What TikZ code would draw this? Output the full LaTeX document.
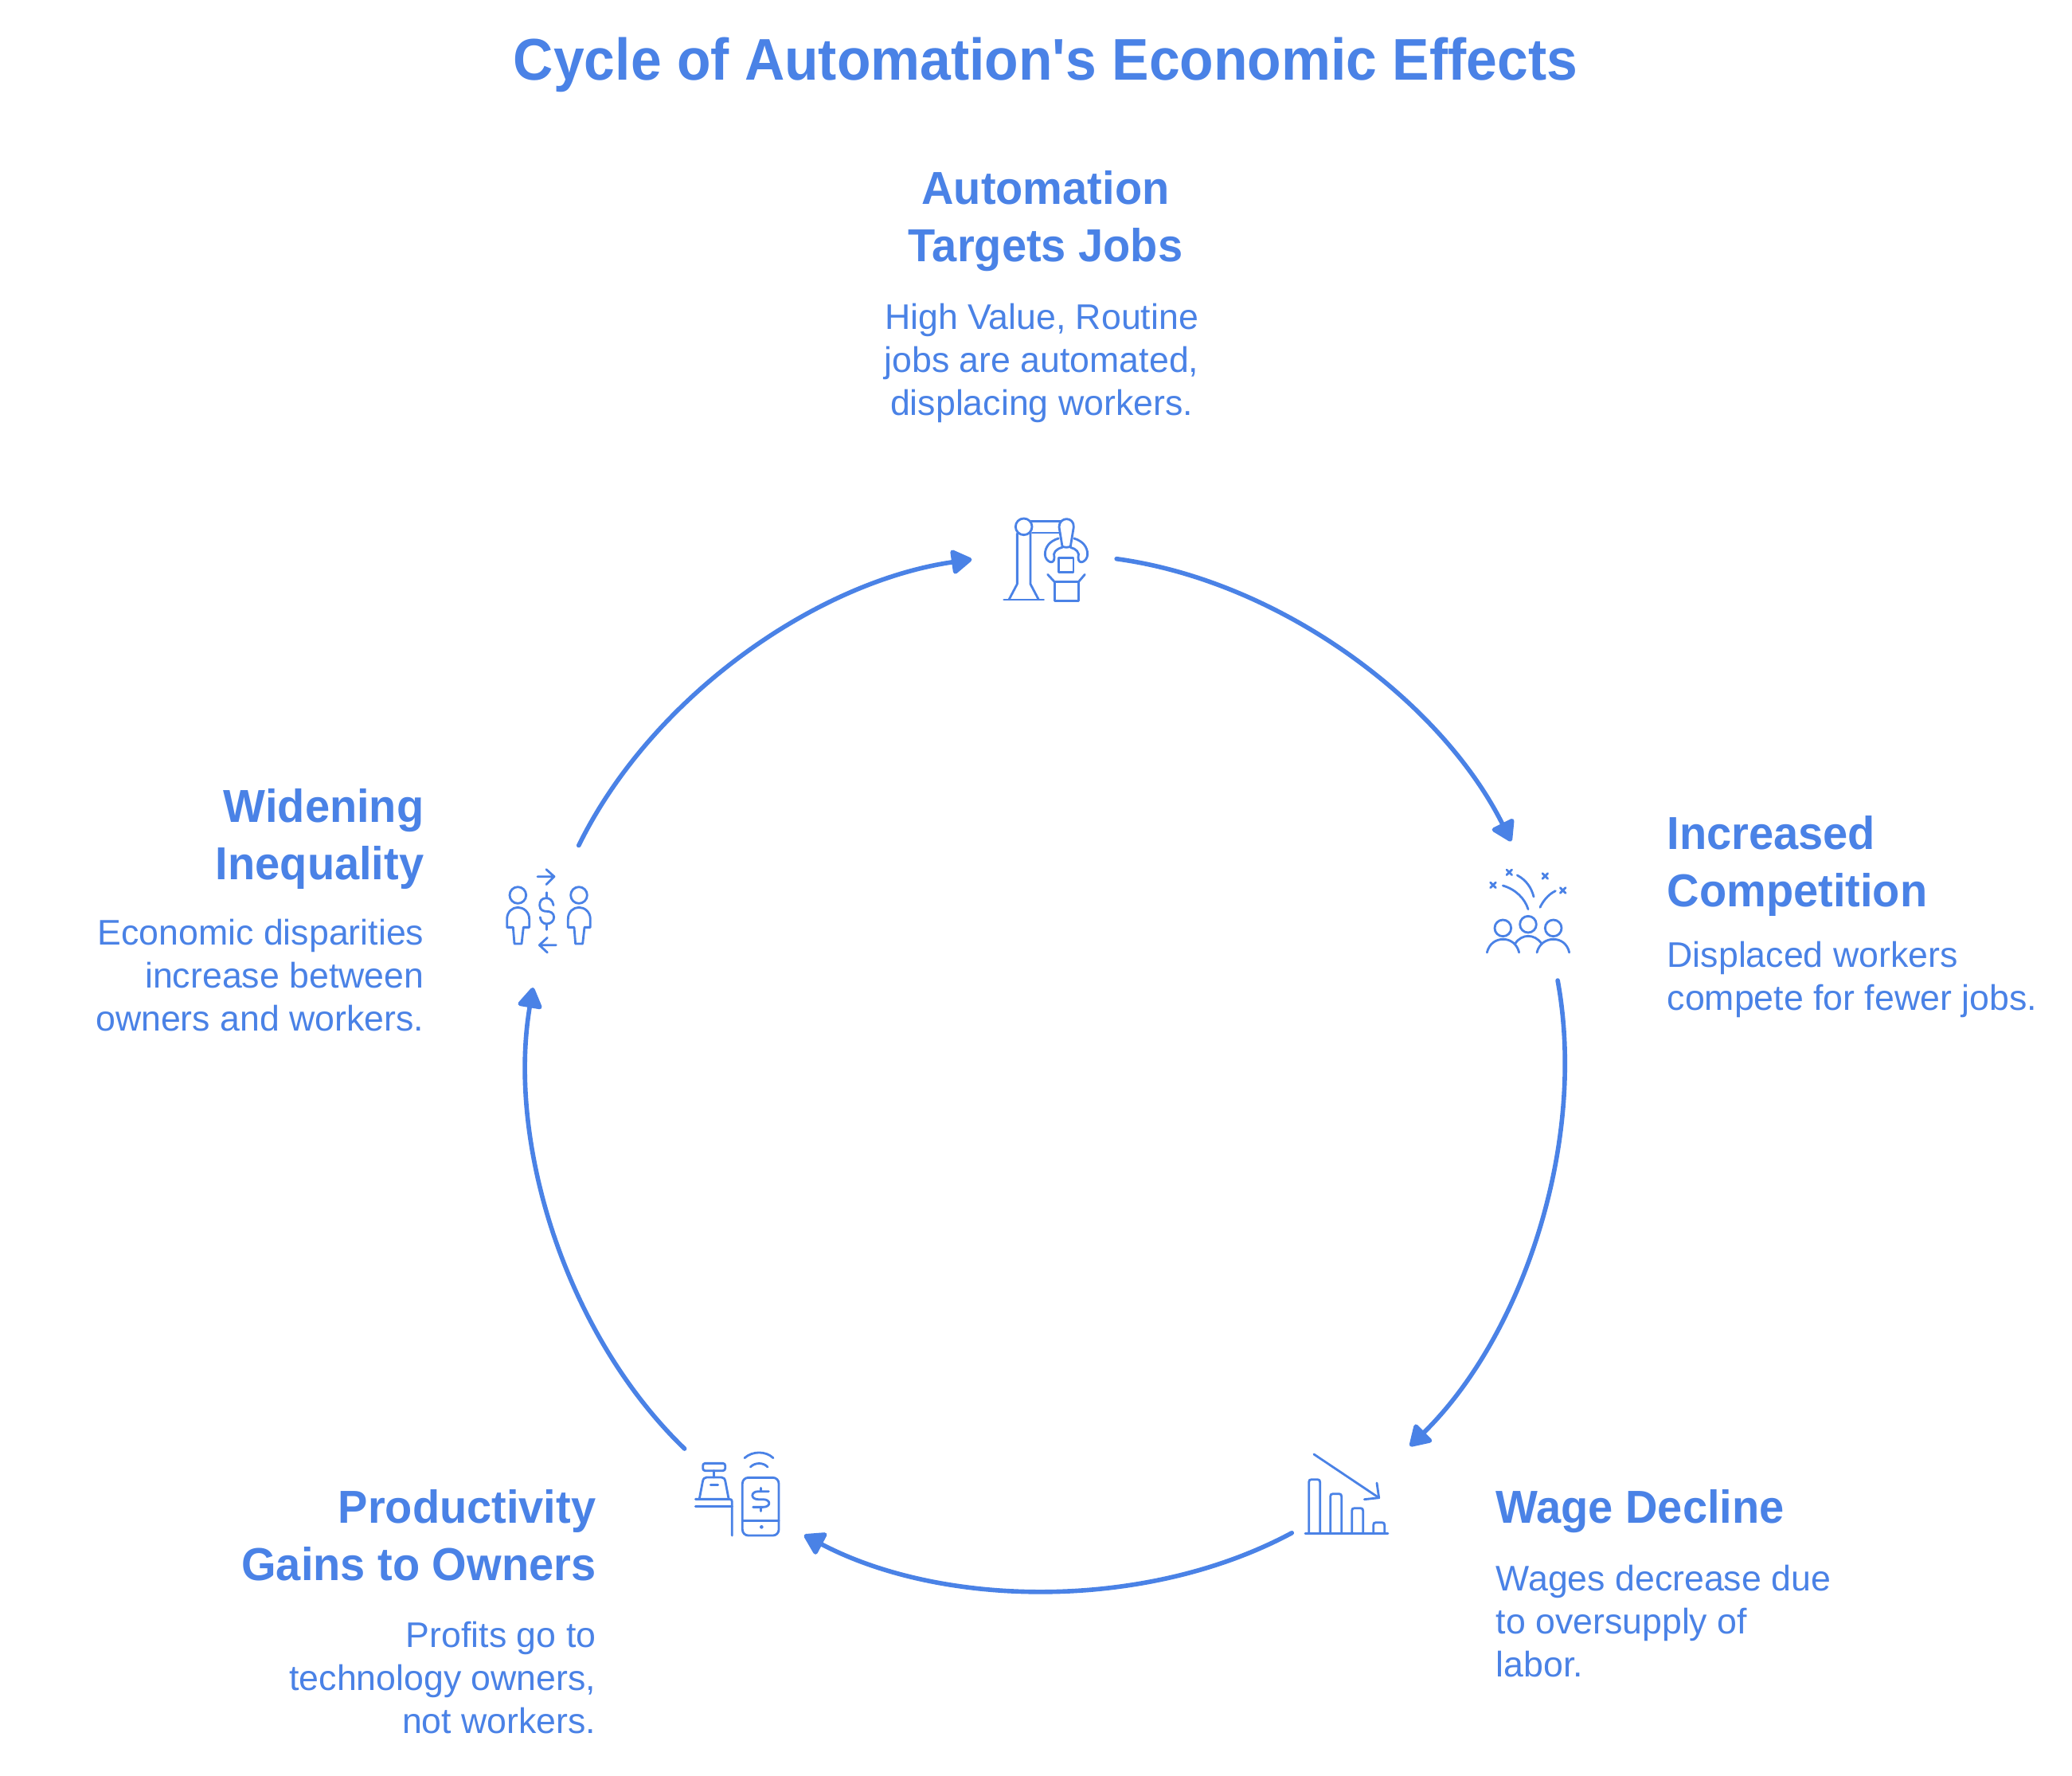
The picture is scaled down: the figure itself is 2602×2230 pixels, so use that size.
\documentclass[tikz,border=0pt]{standalone}
\usepackage{fontspec}
\setmainfont{Liberation Sans}
\newfontfamily\titlefont[FakeStretch=0.943,BoldFont={Liberation Sans Bold}]{Liberation Sans}
\newfontfamily\headfont[FakeStretch=0.965,BoldFont={Liberation Sans Bold}]{Liberation Sans}
\usetikzlibrary{arrows.meta,calc}
\definecolor{ink}{HTML}{4A82E6}
\tikzset{
  flow/.style={draw=ink,line width=1.6pt,line cap=round,-{Stealth[length=8pt,width=9.5pt,inset=0pt,round]}},
  icon/.style={draw=ink,line width=0.8pt,line cap=round,line join=round},
  titletext/.style={text=ink,font=\fontsize{21}{25}\selectfont\titlefont\bfseries,align=center,inner sep=0pt},
  headtext/.style={text=ink,font=\fontsize{16.5}{20.5}\selectfont\headfont\bfseries,inner sep=0pt},
  bodytext/.style={text=ink,font=\fontsize{12.7}{15.4}\selectfont,inner sep=0pt},
  zoomed/.style 2 args={shift={(#1,#2)},x=0.01cm/3,y=-0.01cm/3},
  arcbend/.style={out distance=2.08cm,in distance=1.97cm},
}
\newcommand{\personicon}[1]{%
  \draw[icon] (91+#1,132) circle[radius=31];
  \draw[icon] (78+#1,315) -- (73+#1,253) -- (50+#1,253) -- (50+#1,222) .. controls (50+#1,195) and (70+#1,178) .. (91+#1,178) .. controls (112+#1,178) and (134+#1,195) .. (134+#1,222) -- (134+#1,253) -- (112+#1,253) -- (105+#1,315) -- cycle;
}
\newcommand{\crossicon}[2]{%
  \draw[icon] (#1-10,#2-10) -- (#1+10,#2+10) (#1-10,#2+10) -- (#1+10,#2-10);
}
\newcommand{\baricon}[3]{%
  \draw[icon] (#1,345) -- (#1,#3+10) .. controls (#1,#3+3) and (#1+3,#3) .. (#1+10,#3) -- (#2-10,#3) .. controls (#2-3,#3) and (#2,#3+3) .. (#2,#3+10) -- (#2,345);
}
\begin{document}
\begin{tikzpicture}[x=0.01cm,y=-0.01cm]
\useasboundingbox (0,0) rectangle (2602,2230);
\fill[white] (0,0) rectangle (2602,2230);

\node[titletext] (title) at (1313,81) {Cycle of Automation\symbol{39}s Economic Effects};

\node[headtext,align=center,anchor=north] (h1) at (1313,214) {Automation\\Targets Jobs};
\node[bodytext,align=center,anchor=north] (b1) at (1308,380) {High Value, Routine\\jobs are automated,\\displacing workers.};

\node[headtext,align=left,anchor=north west] (h2) at (2093,1024) {Increased\\Competition};
\node[bodytext,align=left,anchor=north west] (b2) at (2093,1181) {Displaced workers\\compete for fewer jobs.};

\node[headtext,align=left,anchor=north west] (h3) at (1878,1870) {Wage Decline};
\node[bodytext,align=left,anchor=north west] (b3) at (1878,1964) {Wages decrease due\\to oversupply of\\labor.};

\node[headtext,align=right,anchor=north east] (h4) at (749,1870) {Productivity\\Gains to Owners};
\node[bodytext,align=right,anchor=north east] (b4) at (749,2035) {Profits go to\\technology owners,\\not workers.};

\node[headtext,align=right,anchor=north east] (h5) at (533,990) {Widening\\Inequality};
\node[bodytext,align=right,anchor=north east] (b5) at (533,1153) {Economic disparities\\increase between\\owners and workers.};

% connector ends on the cycle
\coordinate (hub) at (1313.5,1349);
\coordinate (s1) at ($(hub)+(82.2:6.53cm)$);
\coordinate (e1) at ($(hub)+(26.6:6.53cm)$);
\coordinate (s2) at ($(hub)+(10.4:6.53cm)$);
\coordinate (e2) at ($(hub)+(-45.6:6.53cm)$);
\coordinate (s3) at ($(hub)+(-61.8:6.53cm)$);
\coordinate (e3) at ($(hub)+(-117.7:6.53cm)$);
\coordinate (s4) at ($(hub)+(-134:6.53cm)$);
\coordinate (e4) at ($(hub)+(-189.6:6.53cm)$);
\coordinate (s5) at ($(hub)+(153.9:6.53cm)$);
\coordinate (e5) at ($(hub)+(98.2:6.53cm)$);
\draw[flow] (s1) to[out=-7.8,in=116.6,arcbend] (e1);
\draw[flow] (s2) to[out=-79.6,in=44.4,arcbend] (e2);
\draw[flow] (s3) to[out=-151.8,in=-27.7,arcbend] (e3);
\draw[flow] (s4) to[out=136,in=-99.6,arcbend] (e4);
\draw[flow] (s5) to[out=63.9,in=188.2,arcbend] (e5);

% robot arm icon
\begin{scope}[zoomed={1220}{620}]
  \draw[icon] (197,124) circle[radius=31];
  \draw[icon] (224,104) -- (335,104) (228,147) -- (330,147);
  \draw[icon] (172,150) -- (172,340) -- (142,397) (222,150) -- (222,340) -- (252,397);
  \draw[icon] (122,399) -- (272,399);
  \draw[icon] (342,198) -- (330,125) .. controls (330,105) and (345,95) .. (358,95) .. controls (372,95) and (386,105) .. (385,125) -- (373,198) .. controls (365,203) and (350,203) .. (342,198);
  \draw[icon] (328,168) .. controls (295,178) and (277,200) .. (277,228) .. controls (277,255) and (312,272) .. (312,240) .. controls (305,222) and (320,207) .. (342,202);
  \draw[icon] (386,168) .. controls (419,178) and (437,200) .. (437,228) .. controls (437,255) and (402,272) .. (402,240) .. controls (409,222) and (394,207) .. (373,202);
  \draw[icon] (329,242) rectangle (384,296);
  \draw[icon] (313,332) rectangle (403,403);
  \draw[icon] (313,332) -- (287,304) (403,332) -- (427,304);
\end{scope}

% competition icon
\begin{scope}[zoomed={1840}{1070}]
  \crossicon{105}{124}
  \crossicon{166}{76}
  \crossicon{301}{90}
  \crossicon{368}{144}
  \draw[icon] (142,126) .. controls (190,140) and (225,175) .. (237,215);
  \draw[icon] (196,87) .. controls (230,105) and (250,135) .. (258,168);
  \draw[icon] (340,146) .. controls (310,160) and (290,190) .. (282,208);
  \draw[icon] (142,286) circle[radius=31];
  \draw[icon] (237,272) circle[radius=31];
  \draw[icon] (332,286) circle[radius=31];
  \draw[icon] (82,378) .. controls (90,345) and (115,328) .. (143,328) .. controls (170,328) and (195,345) .. (203,378);
  \draw[icon] (270,378) .. controls (278,345) and (305,328) .. (332,328) .. controls (360,328) and (385,345) .. (392,378);
  \draw[icon] (188,345) .. controls (200,325) and (220,316) .. (237,316) .. controls (255,316) and (275,325) .. (288,345);
\end{scope}

% falling bars icon
\begin{scope}[zoomed={1620}{1810}]
  \baricon{71}{113}{143}
  \baricon{152}{194}{197}
  \baricon{233}{275}{251}
  \baricon{314}{356}{305}
  \draw[icon] (57,346) -- (369,346);
  \draw[icon] (90,48) -- (335,212);
  \draw[icon] (327,156) -- (335,212) -- (280,218);
\end{scope}

% register and phone icon
\begin{scope}[zoomed={860}{1810}]
  \draw[icon] (225,62) .. controls (255,35) and (305,35) .. (333,62);
  \draw[icon] (247,96) .. controls (265,78) and (295,78) .. (312,96);
  \draw[icon,rounded corners=2.1pt] (217,136) rectangle (354,354);
  \draw[icon] (217,298) -- (354,298);
  \fill[ink] (289,322) circle[radius=7];
  \draw[icon] (316,188) -- (277,188) .. controls (247,188) and (247,218) .. (277,218) -- (295,218) .. controls (325,218) and (325,247) .. (295,247) -- (257,247);
  \draw[icon] (286,175) -- (286,188) (286,247) -- (286,262);
  \draw[icon,rounded corners=0.8pt] (68,82) rectangle (152,110);
  \draw[icon] (110,110) -- (110,135);
  \draw[icon] (55,215) -- (67,152) .. controls (69,140) and (74,135) .. (82,135) -- (138,135) .. controls (146,135) and (151,140) .. (153,152) -- (165,215);
  \draw[icon] (97,163) -- (125,163);
  \draw[icon] (40,217) -- (168,217) .. controls (175,217) and (178,220) .. (178,227) -- (178,354);
  \draw[icon] (40,245) -- (178,245);
\end{scope}

% exchange icon
\begin{scope}[zoomed={620}{1080}]
  \draw[icon] (165,62) -- (228,62) (198,35) -- (228,62) -- (198,92);
  \draw[icon] (235,320) -- (172,320) (202,292) -- (172,320) -- (202,348);
  \draw[icon] (200,122) -- (200,143) (200,240) -- (200,262);
  \draw[icon] (225,170) .. controls (222,150) and (210,143) .. (198,143) .. controls (180,143) and (173,155) .. (173,170) .. controls (173,190) and (190,193) .. (200,193) .. controls (212,193) and (227,198) .. (227,215) .. controls (227,230) and (215,240) .. (200,240) .. controls (185,240) and (177,230) .. (175,215);
  \personicon{0}
  \personicon{230}
\end{scope}
\end{tikzpicture}
\end{document}
